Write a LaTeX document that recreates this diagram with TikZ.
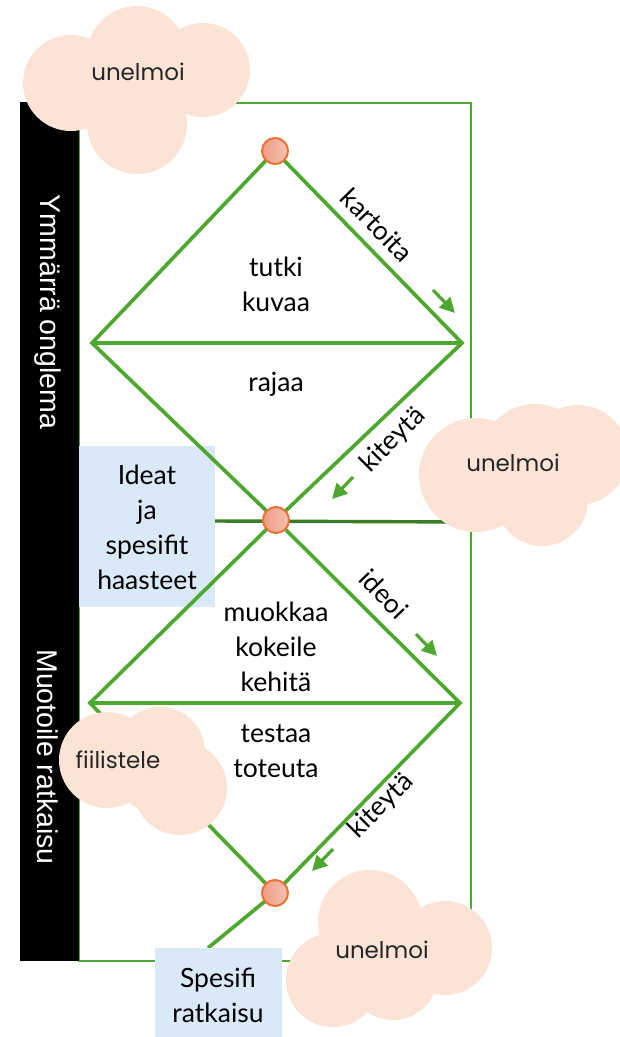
\documentclass[tikz,border=0pt]{standalone}
\usepackage{fontspec}
\setmainfont{Lato}
\newfontfamily\cloudfont{Poppins}
\setsansfont{Liberation Sans}
\usetikzlibrary{arrows.meta}
\definecolor{lgreen}{HTML}{4EA72E}
\definecolor{dgreen}{HTML}{3B7D23}
\definecolor{orng}{HTML}{E97132}
\definecolor{circa}{HTML}{EE9C86}
\definecolor{circb}{HTML}{F6C3B3}
\definecolor{cloudc}{HTML}{FBE3D6}
\definecolor{boxblue}{HTML}{DAE9F8}
\tikzset{
 edge/.style={lgreen, line width=3.7pt},
 frameline/.style={lgreen, line width=1.6pt},
 dot/.style={circle, draw=orng, line width=2pt, left color=circa, right color=circb, minimum size=26pt, inner sep=0pt},
 lbl/.style={font=\fontsize{26.5}{35}\selectfont, align=center, text=black, inner sep=0pt},
 cloudtxt/.style={font=\cloudfont\fontsize{23}{26}\selectfont, text=black!85, inner sep=0pt},
 bartxt/.style={font=\sffamily\fontsize{28.5}{30}\selectfont, text=white, rotate=-90, inner sep=0pt},
 marker/.style={lgreen, line width=3.2pt, -{Triangle[length=15pt,width=15pt]}},
 cloudfill/.style={fill=cloudc, draw=none},
 bluebox/.style={fill=boxblue, draw=none},
}
\begin{document}
\begin{tikzpicture}[x=1pt,y=-1pt]
\useasboundingbox (0,0) rectangle (619,1037);
% frame
\draw[frameline] (79,103) rectangle (471,961);
% black bar
\fill[black] (20,102) rectangle (79,961);
\node[bartxt] (bar1) at (48,312) {Ymmärrä onglema};
\node[bartxt] (bar2) at (48,757) {Muotoile ratkaisu};
% blue boxes
\fill[bluebox] (79,446) rectangle (215,607);
\node[lbl] (ideat) at (147,527) {Ideat\\ja\\spesifit\\haasteet};
% coordinates
\coordinate (T) at (275,151);
\coordinate (L1) at (92,343);
\coordinate (R1) at (462,343);
\coordinate (M) at (276,520);
\coordinate (L2) at (90,703);
\coordinate (R2) at (460,703);
\coordinate (B) at (275,893);
\coordinate (E) at (208,948);
\coordinate (D1) at (215,521);
\coordinate (D2) at (470,522);
% dark line
\draw[dgreen, line width=3.4pt] (D1) -- (D2);
% diamonds
\draw[edge] (T) -- (L1) -- (M) -- (R1) -- cycle;
\draw[edge] (L1) -- (R1);
\draw[edge] (M) -- (L2) -- (B) -- (R2) -- cycle;
\draw[edge] (L2) -- (R2);
\draw[edge] (B) -- (E);
% spesifi box
\fill[bluebox] (155,948) rectangle (282,1037);
\node[lbl] (spes) at (218,995) {Spesifi\\ratkaisu};
% circles
\node[dot] (c1) at (T) {};
\node[dot] (c2) at (M) {};
\node[dot] (c3) at (B) {};
% small arrows
\coordinate (a1s) at (433,290); \coordinate (a1e) at (455,313);
\coordinate (a2s) at (353,477); \coordinate (a2e) at (332,499);
\coordinate (a3s) at (416,634); \coordinate (a3e) at (437,656);
\coordinate (a4s) at (333,849); \coordinate (a4e) at (312,871);
\draw[marker] (a1s) -- (a1e);
\draw[marker] (a2s) -- (a2e);
\draw[marker] (a3s) -- (a3e);
\draw[marker] (a4s) -- (a4e);
% edge labels
\node[lbl, rotate=-46] (kart) at (377,225) {kartoita};
\node[lbl, rotate=45] (kit1) at (393,440) {kiteytä};
\node[lbl, rotate=-46] (ideoi) at (384,594) {ideoi};
\node[lbl, rotate=45] (kit2) at (381,806) {kiteytä};
% inner labels
\node[lbl] (tutki) at (276,284) {tutki\\kuvaa};
\node[lbl] (rajaa) at (276,384) {rajaa};
\node[lbl] (muok) at (276,647) {muokkaa\\kokeile\\kehitä};
\node[lbl] (test) at (276,751) {testaa\\toteuta};
% clouds
\fill[cloudfill] (71,83) circle (48) (137,56) circle (50) (203,70) circle (47) (137,124) circle (50) (137,85) circle (45);
\node[cloudtxt] (u1) at (138,72) {unelmoi};
\fill[cloudfill] (476,475) circle (57) (535,458) circle (54) (578,455) circle (50) (542,500) circle (46) (520,475) circle (45);
\node[cloudtxt] (u2) at (513,463) {unelmoi};
\fill[cloudfill] (107,760) circle (48) (160,752) circle (45) (180,788) circle (47) (150,775) circle (35);
\node[cloudtxt] (fii) at (118,760) {fiilistele};
\fill[cloudfill] (333,980) circle (47) (370,922) circle (52) (445,948) circle (47) (393,975) circle (45) (390,950) circle (45);
\node[cloudtxt] (u4) at (382,950) {unelmoi};
\end{tikzpicture}
\end{document}
